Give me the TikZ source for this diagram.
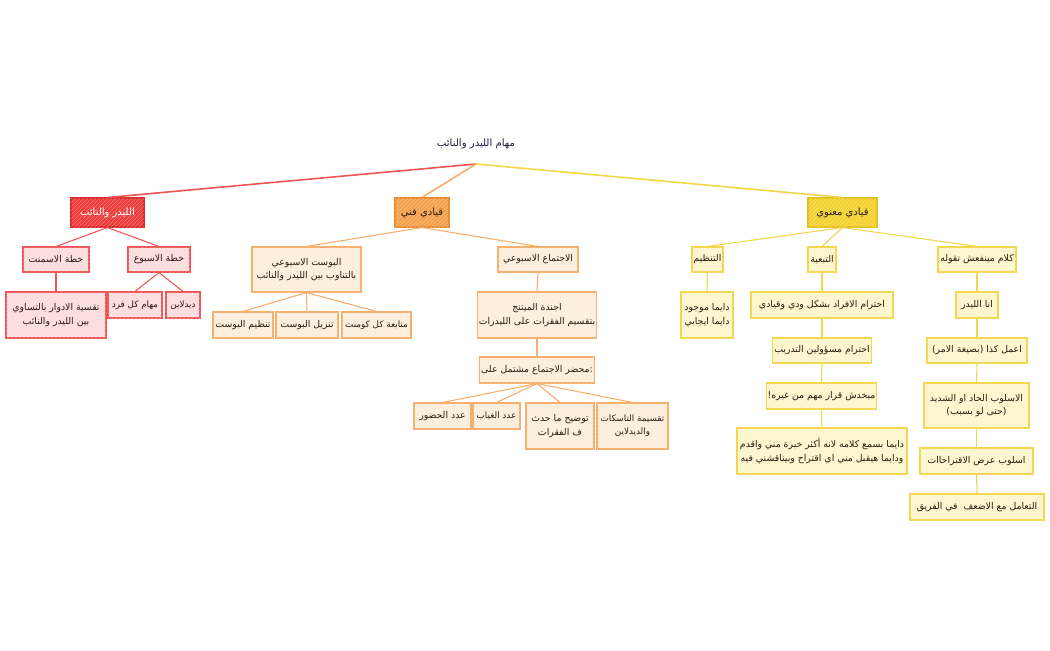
\documentclass[tikz,border=0pt]{standalone}
\usepackage{fontspec}
\usetikzlibrary{patterns}
\newfontfamily\arabicfont[Script=Arabic]{DejaVu Sans}
\TeXXeTstate=1
\newcommand{\ar}[1]{\beginR #1\endR}
\definecolor{redB}{HTML}{EE3B3B}
\definecolor{redD}{HTML}{D92B2B}
\definecolor{redL}{HTML}{FCDCDC}
\definecolor{redE}{HTML}{F05555}
\definecolor{orB}{HTML}{F5A04B}
\definecolor{orD}{HTML}{E88A30}
\definecolor{orL}{HTML}{FDEEDC}
\definecolor{orE}{HTML}{F6AE68}
\definecolor{yeB}{HTML}{F2D22E}
\definecolor{yeD}{HTML}{E2C01A}
\definecolor{yeL}{HTML}{FDF6CC}
\definecolor{yeE}{HTML}{F2D64A}
\definecolor{txt}{HTML}{2A1A10}
\definecolor{rootc}{HTML}{1E1E3C}
\tikzset{
  bx/.style={rectangle, draw, line width=0.8pt, inner sep=1pt, align=center,
    text=txt, font=\arabicfont\fontsize{7}{10}\selectfont,
    postaction={pattern=north east lines, pattern color=white, opacity=0.3}},
  redbr/.style={bx, fill=redB, draw=redD, text=white, font=\arabicfont\fontsize{7.5}{10}\selectfont},
  orbr/.style={bx, fill=orB, draw=orD, font=\arabicfont\fontsize{7.5}{10}\selectfont},
  yebr/.style={bx, fill=yeB, draw=yeD, font=\arabicfont\fontsize{7.5}{10}\selectfont},
  rc/.style={bx, fill=redL, draw=redE},
  oc/.style={bx, fill=orL, draw=orE},
  yc/.style={bx, fill=yeL, draw=yeE},
  tight/.style={font=\arabicfont\fontsize{6.6}{10}\selectfont},
  sz/.style 2 args={minimum width=#1*0.75pt, minimum height=#2*0.75pt},
  redln/.style={draw=redE, line width=0.8pt},
  orln/.style={draw=orE, line width=0.8pt},
  yeln/.style={draw=yeE, line width=0.8pt},
}
\begin{document}
\begin{tikzpicture}[x=0.75pt, y=-0.75pt]
\useasboundingbox[fill=white] (0,0) rectangle (1050,650);
% root
\node[text=rootc, font=\arabicfont\fontsize{7.6}{10}\selectfont] (root) at (476,144) {\ar{مهام الليدر والنائب}};
\coordinate (rp) at (476,164);
% branches
\node[redbr, sz={73}{29}] (R0) at (107.5,212.5) {\ar{الليدر والنائب}};
\node[orbr, sz={54}{29}] (O0) at (422,212.5) {\ar{قيادي فني}};
\node[yebr, sz={69}{29}] (Y0) at (842.5,212.5) {\ar{قيادي معنوي}};
\draw[draw=redE, line width=1.2pt] (rp) -- (R0.north);
\draw[draw=orE, line width=1.2pt] (rp) -- (O0.north);
\draw[draw=yeE, line width=1.2pt] (rp) -- (Y0.north);
% red children
\node[rc, sz={66}{25}] (r1) at (56,259.5) {\ar{خطة الاسمنت}};
\node[rc, sz={62}{25}] (r2) at (159,259.5) {\ar{خطة الاسبوع}};
\node[rc, sz={100}{46}] (r3) at (56,315) {\ar{تقسية الادوار بالتساوي}\\\ar{بين الليدر والنائب}};
\node[rc, tight, sz={54}{26}] (r4) at (135,305) {\ar{مهام كل فرد}};
\node[rc, tight, sz={34}{26}] (r5) at (183,305) {\ar{ديدلاين}};
\draw[redln] (R0.south) -- (r1.north);
\draw[redln] (R0.south) -- (r2.north);
\draw[redln] (r1.south) -- (r3.north);
\draw[redln] (r2.south) -- (r4.north);
\draw[redln] (r2.south) -- (r5.north);
% orange children
\node[oc, sz={109}{45}] (o1) at (306.5,269.5) {\ar{البوست الاسبوعي}\\\ar{بالتناوب بين الليدر والنائب}};
\node[oc, sz={80}{25}] (o2) at (538,259.5) {\ar{الاجتماع الاسبوعي}};
\node[oc, sz={60}{26}] (o3) at (243,325) {\ar{تنظيم البوست}};
\node[oc, sz={62}{26}] (o4) at (307,325) {\ar{تنزيل البوست}};
\node[oc, tight, sz={69}{26}] (o5) at (376.5,325) {\ar{متابعة كل كومنت}};
\node[oc, sz={116}{46}] (o6) at (537,315) {\ar{اجندة الميتنج}\\\ar{بتقسيم الفقرات على الليدرات}};
\node[oc, sz={112}{26}] (o7) at (537,370) {\ar{محضر الاجتماع مشتمل على}:};
\node[oc, sz={57}{26}] (o8) at (442.5,416) {\ar{عدد الحضور}};
\node[oc, tight, sz={47}{26}] (o9) at (496.5,416) {\ar{عدد الغياب}};
\node[oc, sz={68}{46}] (o10) at (560,426) {\ar{توضيح ما حدث}\\\ar{ف الفقرات}};
\node[oc, tight, sz={71}{46}] (o11) at (632.5,426) {\ar{تقسيمة التاسكات}\\\ar{والديدلاين}};
\draw[orln] (O0.south) -- (o1.north);
\draw[orln] (O0.south) -- (o2.north);
\draw[orln] (o1.south) -- (o3.north);
\draw[orln] (o1.south) -- (o4.north);
\draw[orln] (o1.south) -- (o5.north);
\draw[orln] (o2.south) -- (o6.north);
\draw[orln] (o6.south) -- (o7.north);
\draw[orln] (o7.south) -- (o8.north);
\draw[orln] (o7.south) -- (o9.north);
\draw[orln] (o7.south) -- (o10.north);
\draw[orln] (o7.south) -- (o11.north);
% yellow children
\node[yc, sz={31}{25}] (y1) at (707.5,259.5) {\ar{التنظيم}};
\node[yc, sz={28}{25}] (y2) at (822,259.5) {\ar{التبعية}};
\node[yc, sz={78}{25}] (y3) at (977,259.5) {\ar{كلام مينفعش نقوله}};
\node[yc, sz={52}{46}] (y4) at (707,315) {\ar{دايما موجود}\\\ar{دايما ايجابي}};
\node[yc, sz={142}{26}] (y5) at (822,305) {\ar{احترام الافراد بشكل ودي وقيادي}};
\node[yc, sz={99}{25}] (y6) at (822,350.5) {\ar{احترام مسؤولين التدريب}};
\node[yc, sz={105}{26}] (y7) at (821.5,396) {!\ar{مبخدش قرار مهم من غيره}};
\node[yc, sz={170}{46}] (y8) at (822,451) {\ar{دايما بسمع كلامه لانه أكثر خبرة مني واقدم}\\\ar{ودايما هيقبل مني اي اقتراح وبيناقشني فيه}};
\node[yc, sz={42}{26}] (y9) at (977,305) {\ar{انا الليدر}};
\node[yc, sz={100}{25}] (y10) at (977,350.5) {\ar{اعمل كذا (بصيغة الامر)}};
\node[yc, sz={105}{45}] (y11) at (976.5,405.5) {\ar{الاسلوب الحاد او الشديد}\\\ar{(حتى لو بسبب)}};
\node[yc, sz={113}{26}] (y12) at (976.5,461) {\ar{اسلوب عرض الاقتراحاات}};
\node[yc, sz={134}{26}] (y13) at (977,507) {\ar{التعامل مع الاضعف~ في الفريق}};
\draw[yeln] (Y0.south) -- (y1.north);
\draw[yeln] (Y0.south) -- (y2.north);
\draw[yeln] (Y0.south) -- (y3.north);
\draw[yeln] (y1.south) -- (y4.north);
\draw[yeln] (y2.south) -- (y5.north);
\draw[yeln] (y5.south) -- (y6.north);
\draw[yeln] (y6.south) -- (y7.north);
\draw[yeln] (y7.south) -- (y8.north);
\draw[yeln] (y3.south) -- (y9.north);
\draw[yeln] (y9.south) -- (y10.north);
\draw[yeln] (y10.south) -- (y11.north);
\draw[yeln] (y11.south) -- (y12.north);
\draw[yeln] (y12.south) -- (y13.north);
\end{tikzpicture}
\end{document}
